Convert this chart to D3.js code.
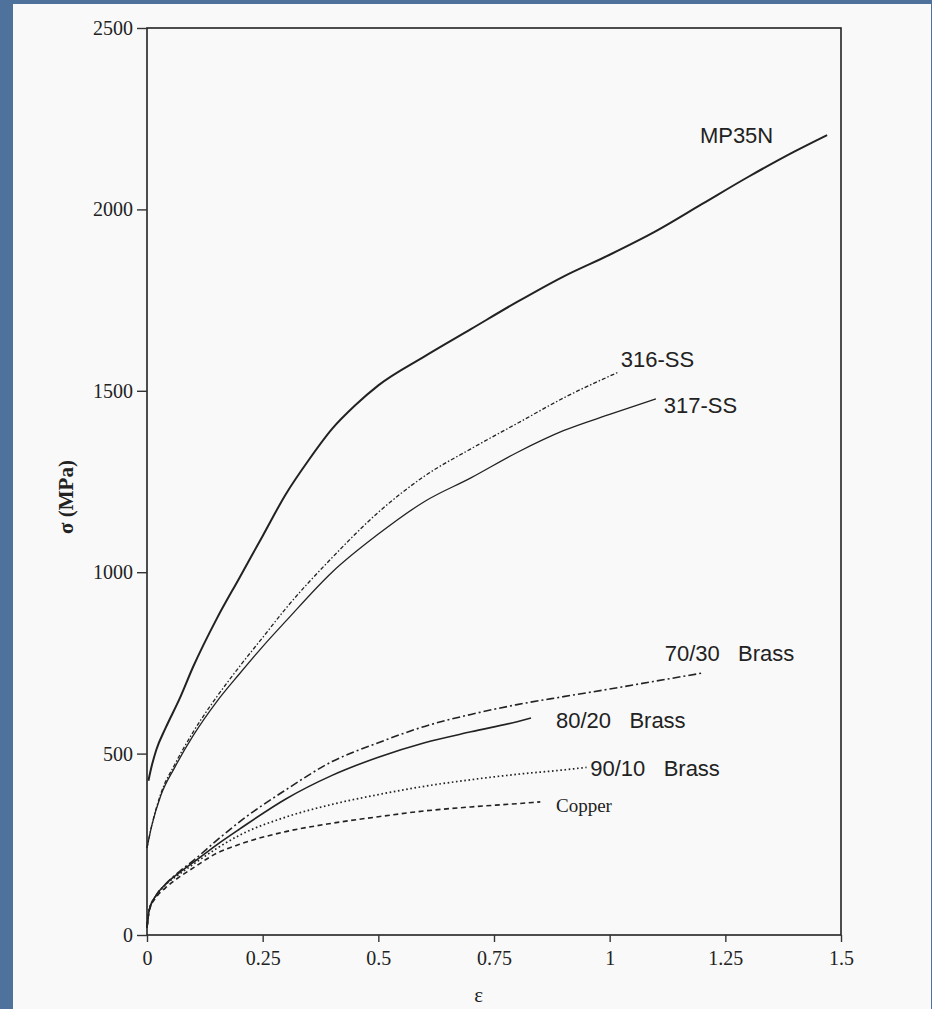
<!DOCTYPE html>
<html lang="en">
<head>
<meta charset="UTF-8" />
<script src="https://d3js.org/d3.v7.min.js"></script>
<style>
  html, body { margin: 0; padding: 0; background: #4f729c; }
  .tick-label { font-family: "Liberation Serif", "DejaVu Serif", serif; font-size: 20px; fill: #222; }
  .series-label { font-family: "Liberation Sans", Arial, sans-serif; font-size: 22px; fill: #222; }
</style>
<title>Stress-strain curves</title>
</head>
<body>
<script>
// strain ticks and stress ticks
const xTicks = [0, 0.25, 0.5, 0.75, 1, 1.25, 1.5];
const xTickLabels = ["0", "0.25", "0.5", "0.75", "1", "1.25", "1.5"];
const yTicks = [0, 500, 1000, 1500, 2000, 2500];

// series values as [strain, stress MPa]
const mp35n = [[0.003,425],[0.01,465],[0.02,510],[0.04,570],[0.07,650],[0.1,740],[0.15,870],[0.2,985],[0.25,1100],[0.3,1215],[0.35,1310],[0.4,1395],[0.45,1460],[0.5,1515],[0.6,1595],[0.7,1670],[0.8,1745],[0.9,1815],[1.0,1875],[1.1,1940],[1.2,2015],[1.3,2090],[1.4,2160],[1.47,2205]];
const ss316 = [[0,240],[0.01,300],[0.03,390],[0.06,470],[0.1,560],[0.15,655],[0.2,740],[0.25,820],[0.3,900],[0.4,1040],[0.5,1165],[0.6,1265],[0.7,1340],[0.8,1410],[0.9,1480],[1.02,1552]];
const ss317 = [[0,240],[0.01,300],[0.03,385],[0.06,462],[0.1,550],[0.15,642],[0.2,720],[0.25,795],[0.3,865],[0.4,1000],[0.5,1105],[0.6,1195],[0.7,1260],[0.8,1330],[0.9,1390],[1.0,1435],[1.1,1478]];
const brass7030 = [[0,20],[0.005,70],[0.02,110],[0.04,140],[0.07,175],[0.1,205],[0.15,260],[0.2,312],[0.3,400],[0.4,478],[0.5,530],[0.6,575],[0.7,608],[0.8,635],[0.9,657],[1.0,678],[1.1,700],[1.2,722]];
const brass8020 = [[0,20],[0.005,70],[0.02,110],[0.04,140],[0.07,172],[0.1,200],[0.15,248],[0.2,292],[0.3,375],[0.4,440],[0.5,490],[0.6,530],[0.7,560],[0.8,588],[0.83,598]];
const brass9010 = [[0,20],[0.005,70],[0.02,108],[0.04,138],[0.07,168],[0.1,195],[0.15,238],[0.2,275],[0.3,325],[0.4,360],[0.5,387],[0.6,410],[0.7,428],[0.8,443],[0.9,455],[0.95,462]];
const copper = [[0,20],[0.005,68],[0.02,104],[0.04,130],[0.07,160],[0.1,185],[0.15,225],[0.2,250],[0.3,285],[0.4,308],[0.5,326],[0.6,342],[0.7,353],[0.8,362],[0.85,367]];

const seriesNames = ["MP35N", "316-SS", "317-SS", "70/30   Brass", "80/20   Brass", "90/10   Brass", "Copper"];
const seriesData = [mp35n, ss316, ss317, brass7030, brass8020, brass9010, copper];
// where each label starts, in data units [strain, stress]
const labelPos = [[1.195, 2205], [1.024, 1588], [1.117, 1461], [1.119, 777], [0.884, 593], [0.958, 460], [0.884, 358]];

const width = 932, height = 1009;
const margin = { top: 28, right: 91, bottom: 74, left: 147 };

const svg = d3.select("body").append("svg")
  .attr("width", width)
  .attr("height", height)
  .style("display", "block");

// paper
svg.append("rect")
  .attr("x", 13).attr("y", 4)
  .attr("width", 918).attr("height", height - 4)
  .attr("fill", "#f9f9f9");

const xScale = d3.scaleLinear().domain([0, 1.5]).range([margin.left, width - margin.right]);
const yScale = d3.scaleLinear().domain([0, 2500]).range([height - margin.bottom, margin.top]);

// frame
svg.append("rect")
  .attr("x", xScale(0)).attr("y", yScale(2500))
  .attr("width", xScale(1.5) - xScale(0))
  .attr("height", yScale(0) - yScale(2500))
  .attr("fill", "none")
  .attr("stroke", "#222")
  .attr("stroke-width", 1.6);

// axes
const gX = svg.append("g")
  .attr("transform", `translate(0,${yScale(0)})`)
  .call(d3.axisBottom(xScale).tickValues(xTicks).tickSize(7).tickPadding(9)
    .tickFormat((d, i) => xTickLabels[i]));
const gY = svg.append("g")
  .attr("transform", `translate(${xScale(0)},0)`)
  .call(d3.axisLeft(yScale).tickValues(yTicks).tickSize(10).tickPadding(4).tickFormat(d3.format("d")));

[gX, gY].forEach((g) => {
  g.select(".domain").remove();
  g.selectAll(".tick line").attr("stroke", "#333").attr("stroke-width", 1.4);
  g.selectAll(".tick text").attr("class", "tick-label").attr("font-family", null).attr("font-size", null).attr("fill", null);
});

// axis titles
svg.append("text")
  .attr("class", "tick-label")
  .attr("transform", "translate(66,497) rotate(-90)")
  .attr("text-anchor", "middle")
  .attr("dy", "0.35em")
  .style("font-size", "21px")
  .style("font-weight", "bold")
  .text("σ (MPa)");

svg.append("text")
  .attr("class", "tick-label")
  .attr("x", xScale(0.717))
  .attr("y", 1002)
  .attr("text-anchor", "middle")
  .style("font-size", "21px")
  .text("ε");

// lines
const line = d3.line()
  .x((d) => xScale(d[0]))
  .y((d) => yScale(d[1]))
  .curve(d3.curveMonotoneX);

const styles = [
  { w: 2.0, dash: null },
  { w: 1.3, dash: "4,2,1.5,2" },
  { w: 1.3, dash: null },
  { w: 1.6, dash: "8,3,2,3" },
  { w: 1.6, dash: null },
  { w: 1.7, dash: "1.6,2.6" },
  { w: 1.6, dash: "5,3.5" },
];

svg.append("g")
  .selectAll("path")
  .data(seriesData)
  .join("path")
  .attr("d", line)
  .attr("fill", "none")
  .attr("stroke", "#222")
  .attr("stroke-width", (d, i) => styles[i].w)
  .attr("stroke-dasharray", (d, i) => styles[i].dash);

svg.append("g")
  .selectAll("text")
  .data(seriesNames)
  .join("text")
  .attr("class", (d) => (d === "Copper" ? "tick-label" : "series-label"))
  .attr("x", (d, i) => xScale(labelPos[i][0]))
  .attr("y", (d, i) => yScale(labelPos[i][1]))
  .attr("dy", "0.35em")
  .style("font-size", (d) => (d === "Copper" ? "19px" : null))
  .style("white-space", "pre")
  .text((d) => d);
</script>
</body>
</html>
